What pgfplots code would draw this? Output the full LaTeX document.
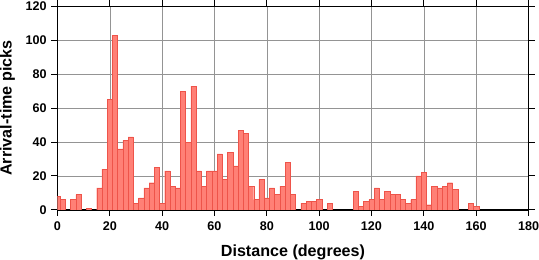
\documentclass[border=0pt]{standalone}
\usepackage{pgfplots}
\pgfplotsset{compat=1.18}
\usepackage{fontspec}
\setmainfont{Liberation Sans}
\definecolor{barfill}{RGB}{255,128,118}
\definecolor{baredge}{RGB}{238,84,74}
\pgfplotsset{layers/mylayers/.define layer set={axis background,axis grid,main,axis ticks,axis lines,axis tick labels,axis descriptions,axis foreground}{}}
\begin{document}
\begin{tikzpicture}
\begin{axis}[
  set layers=mylayers,
  scale only axis, width=468pt, height=202pt,
  xmin=0, xmax=180, ymin=0, ymax=120,
  xtick={0,20,...,180}, ytick={0,20,...,120},
  grid=major, major grid style={black!42, line width=0.5pt},
  axis line style={line width=1.6pt},
  tick align=outside, major tick length=6pt,
  tick style={black, line width=0.9pt},
  xlabel={Distance (degrees)}, ylabel={Arrival-time picks},
  label style={font=\bfseries\fontsize{16}{18}\selectfont},
  tick label style={font=\bfseries\fontsize{12.5}{14}\selectfont, inner sep=0pt},
  xticklabel style={anchor=north, yshift=-5.5pt},
  yticklabel style={anchor=east, xshift=-4.5pt},
  /pgf/number format/assume math mode=true,
  xlabel style={at={(axis description cs:0.5,0)}, anchor=base, yshift=-46pt, inner sep=0pt},
  ylabel style={at={(axis description cs:-0.0972,0.5)}, anchor=base, inner sep=0pt},
]
\addplot[ybar, bar width=2, bar shift=0pt, fill=barfill, draw=baredge, line width=0.4pt] coordinates {
(0,8) (2,6) (6,6) (8,9) (12,1) (16,13) (18,24) (20,65) (22,103) (24,36) (26,41) (28,43)
(30,4) (32,7) (34,13) (36,16) (38,25) (40,4) (42,23) (44,14) (46,13) (48,70) (50,40)
(52,73) (54,23) (56,14) (58,23) (60,23) (62,33) (64,18) (66,34) (68,26) (70,47) (72,45)
(74,14) (76,6) (78,18) (80,7) (82,13) (84,9) (86,14) (88,28) (90,9) (94,4) (96,5) (98,5)
(100,6) (104,4) (114,11) (116,2) (118,5) (120,6) (122,13) (124,6) (126,11) (128,9) (130,9)
(132,6) (134,4) (136,6) (138,20) (140,22) (142,3) (144,14) (146,13) (148,14) (150,16)
(152,12) (158,4) (160,2)
};
\end{axis}
\end{tikzpicture}
\end{document}
